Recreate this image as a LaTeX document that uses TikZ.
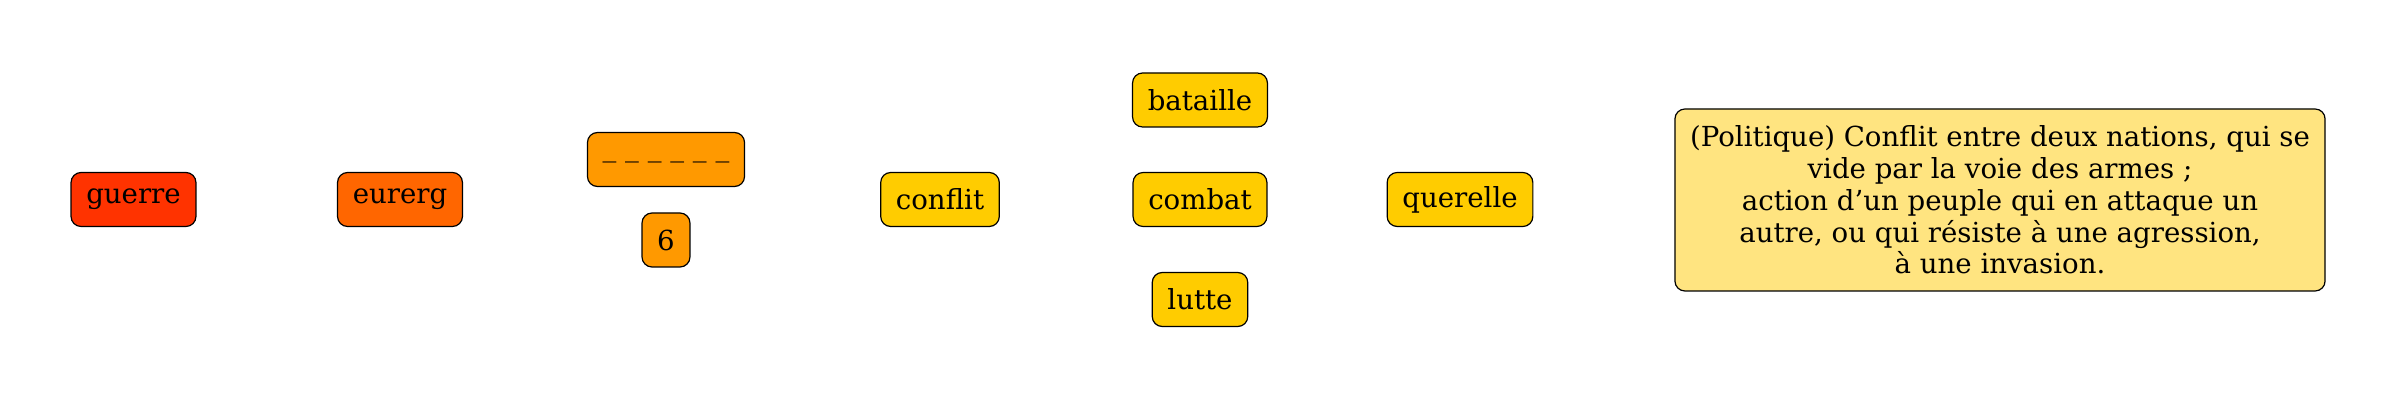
\documentclass[tikz,border=0pt]{standalone}
\usepackage{fontspec}
\setmainfont{DejaVu Serif}
\definecolor{cA}{HTML}{FF3300}
\definecolor{cB}{HTML}{FF6600}
\definecolor{cC}{HTML}{FF9900}
\definecolor{cD}{HTML}{FFCC00}
\definecolor{cE}{HTML}{FFE480}
\begin{document}
\begin{tikzpicture}[x=0.5pt,y=-0.5pt,
  box/.style={draw=black,line width=0.6pt,rounded corners=5pt,minimum height=27pt,inner xsep=7.6pt,inner ysep=2pt,font=\fontsize{13.8}{15.9}\selectfont},
]
\useasboundingbox (0,0) rectangle (2400,400);
\node[box,fill=cA] (guerre) at (133.5,199.5) {guerre};
\node[box,fill=cB] (eurerg) at (400,199.5) {eurerg};
\node[box,fill=cC] (blank) at (666,159.5) {\_ \_ \_ \_ \_ \_};
\node[box,fill=cC,minimum width=22.5pt] (six) at (666,240) {6};
\node[box,fill=cD] (conflit) at (940,199.5) {conflit};
\node[box,fill=cD] (bataille) at (1200,100) {bataille};
\node[box,fill=cD] (combat) at (1200,199.5) {combat};
\node[box,fill=cD] (lutte) at (1200,299.5) {lutte};
\node[box,fill=cD] (querelle) at (1460,199.5) {querelle};
\node[box,fill=cE,align=center,minimum width=325pt,minimum height=91pt] (def) at (2000,200) {(Politique) Conflit entre deux nations, qui se\\vide par la voie des armes ;\\action d’un peuple qui en attaque un\\autre, ou qui résiste à une agression,\\à une invasion.};
\end{tikzpicture}
\end{document}
